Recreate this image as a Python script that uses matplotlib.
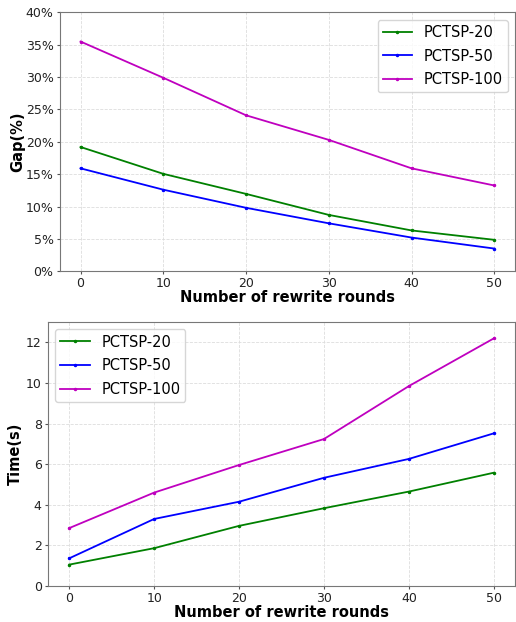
import matplotlib
matplotlib.use('Agg')
import matplotlib.pyplot as plt
from matplotlib.ticker import PercentFormatter

# Data
rounds = [0, 10, 20, 30, 40, 50]
labels = ['PCTSP-20', 'PCTSP-50', 'PCTSP-100']
colors = ['g', 'b', 'm']

gap_20 = [19.2, 15.05, 11.95, 8.7, 6.3, 4.85]
gap_50 = [15.9, 12.6, 9.8, 7.4, 5.2, 3.5]
gap_100 = [35.5, 29.9, 24.1, 20.3, 15.9, 13.25]

time_20 = [1.05, 1.86, 2.96, 3.83, 4.65, 5.58]
time_50 = [1.36, 3.3, 4.15, 5.33, 6.26, 7.52]
time_100 = [2.85, 4.6, 5.96, 7.24, 9.85, 12.2]

fig = plt.figure(figsize=(5.16, 6.22), dpi=100)
ax1 = fig.add_axes([0.116, 0.564, 0.882, 0.416])
ax2 = fig.add_axes([0.093, 0.058, 0.905, 0.424])


def style(ax):
    for s in ax.spines.values():
        s.set_color('#777777')
    ax.tick_params(colors='#222222', labelsize=9, length=2, pad=2.5)
    ax.tick_params(axis='both', color='#555555')
    ax.grid(True, linestyle='--', color='#dddddd', linewidth=0.6)
    ax.set_axisbelow(True)


# Gap chart
for vals, lab, c in zip([gap_20, gap_50, gap_100], labels, colors):
    ax1.plot(rounds, vals, color=c, marker='.', markersize=3, linewidth=1.3, label=lab)
ax1.set_ylim(0, 40)
ax1.yaxis.set_major_formatter(PercentFormatter(100, decimals=0))
ax1.set_xlabel('Number of rewrite rounds', fontsize=10.5, fontweight='bold', labelpad=0)
ax1.set_ylabel('Gap(%)', fontsize=10.5, fontweight='bold', labelpad=0)
style(ax1)
ax1.legend(loc='upper right', fontsize=10.5, borderpad=0.35, labelspacing=0.6)

# Time chart
for vals, lab, c in zip([time_20, time_50, time_100], labels, colors):
    ax2.plot(rounds, vals, color=c, marker='.', markersize=3, linewidth=1.3, label=lab)
ax2.set_ylim(0, 13)
ax2.set_yticks([0, 2, 4, 6, 8, 10, 12])
ax2.set_xlabel('Number of rewrite rounds', fontsize=10.5, fontweight='bold', labelpad=0)
ax2.set_ylabel('Time(s)', fontsize=10.5, fontweight='bold', labelpad=2)
style(ax2)
ax2.legend(loc='upper left', fontsize=10.5, borderpad=0.35, labelspacing=0.6)

fig.savefig('out.png', dpi=100)
